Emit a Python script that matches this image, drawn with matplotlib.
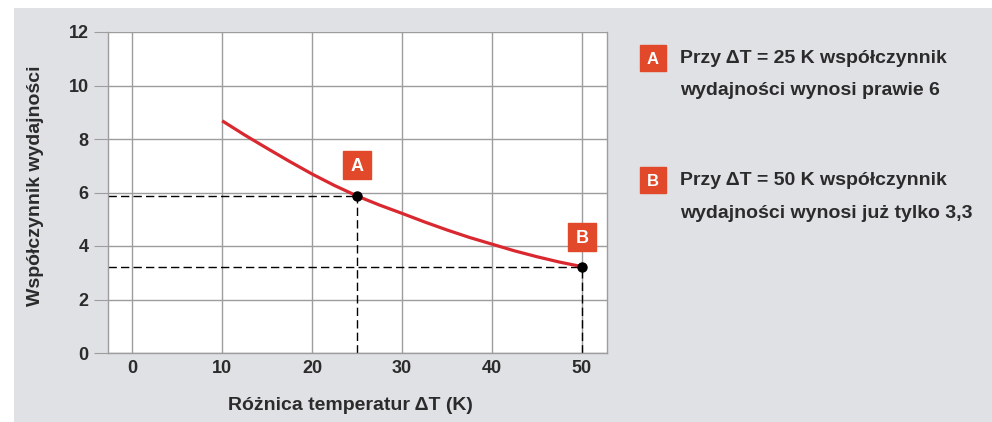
import numpy as np
import matplotlib.pyplot as plt
from matplotlib.patches import Rectangle

plt.rcParams['font.family'] = ['Liberation Sans', 'DejaVu Sans']
plt.rcParams['font.weight'] = 'bold'

# Krzywa współczynnika wydajności (odczyt z wykresu)
delta_T = [10, 12.5, 15, 17.5, 20, 22.5, 25, 27.5, 30, 32.5, 35, 37.5, 40, 42.5, 45, 47.5, 50]
cop = [8.68, 8.15, 7.65, 7.16, 6.69, 6.26, 5.87, 5.53, 5.22, 4.9, 4.6, 4.32, 4.07, 3.82, 3.6, 3.4, 3.23]

# Punkty A i B
pkt_nazwy = ["A", "B"]
pkt_x = [25, 50]
pkt_y = [5.87, 3.23]
etykieta_y = [7.03, 4.34]

opisy = [
    ["Przy ΔT = 25 K współczynnik", "wydajności wynosi prawie 6"],
    ["Przy ΔT = 50 K współczynnik", "wydajności wynosi już tylko 3,3"],
]

tlo = "#dfe1e5"
czerwony = "#d9282f"
pomaranczowy = "#e2482a"
tekst = "#2b2b2b"
siatka = "#9d9d9d"

fig = plt.figure(figsize=(9.92, 4.22), dpi=100)
fig.patches.append(Rectangle((14 / 992, 0), 1, 1 - 8 / 422, transform=fig.transFigure,
                             facecolor=tlo, edgecolor="none", zorder=-10))

ax = fig.add_axes([108 / 992, 1 - 353 / 422, (607 - 108) / 992, (353 - 32) / 422])
ax.set_facecolor("white")
ax.set_xlim(-2.7, 52.8)
ax.set_ylim(0, 12)
ax.set_xticks([0, 10, 20, 30, 40, 50])
ax.set_yticks([0, 2, 4, 6, 8, 10, 12])
ax.grid(True, color=siatka, linewidth=1)
ax.set_axisbelow(True)
for s in ["left", "bottom", "right"]:
    ax.spines[s].set_color(siatka)
    ax.spines[s].set_linewidth(1)
ax.spines["top"].set_visible(False)
ax.tick_params(axis="y", length=10, color=siatka, pad=4, labelsize=13, labelcolor=tekst)
ax.tick_params(axis="x", length=0, pad=5, labelsize=13, labelcolor=tekst)

ax.plot(delta_T, cop, color=czerwony, linewidth=2.3, solid_capstyle="butt", zorder=3)

for nazwa, x, y, ly in zip(pkt_nazwy, pkt_x, pkt_y, etykieta_y):
    ax.plot([-2.7, x], [y, y], color="black", linestyle=(0, (6, 3)), linewidth=1, zorder=2)
    ax.plot([x, x], [0, y], color="black", linestyle=(0, (6, 3)), linewidth=1, zorder=2)
    ax.plot(x, y, "o", color="black", markersize=6.5, zorder=4)
    ax.plot(x, ly, "s", color=pomaranczowy, markersize=20, zorder=5, clip_on=False)
    ax.text(x, ly, nazwa, color="white", fontsize=13, fontweight="bold",
            ha="center", va="center_baseline", zorder=6)

fig.text(350 / 992, 1 - 410 / 422, "Różnica temperatur ΔT (K)", fontsize=14, color=tekst,
         ha="center", va="baseline")
fig.text(36 / 992, 1 - 185.5 / 422, "Współczynnik wydajności", fontsize=14, color=tekst,
         ha="center", va="center", rotation=90)

for nazwa, linie, yy, bazy in zip(pkt_nazwy, opisy, [58, 180], [[63, 95], [185, 218]]):
    ax.plot(653 / 992, 1 - yy / 422, "s", color=pomaranczowy, markersize=18.5,
            transform=fig.transFigure, clip_on=False)
    fig.text(653 / 992, 1 - yy / 422, nazwa, color="white", fontsize=12, fontweight="bold",
             ha="center", va="center_baseline")
    for linia, b in zip(linie, bazy):
        fig.text(680 / 992, 1 - b / 422, linia, color=tekst, fontsize=14, fontweight="bold",
                 ha="left", va="baseline")

fig.savefig("out.png", dpi=100)
